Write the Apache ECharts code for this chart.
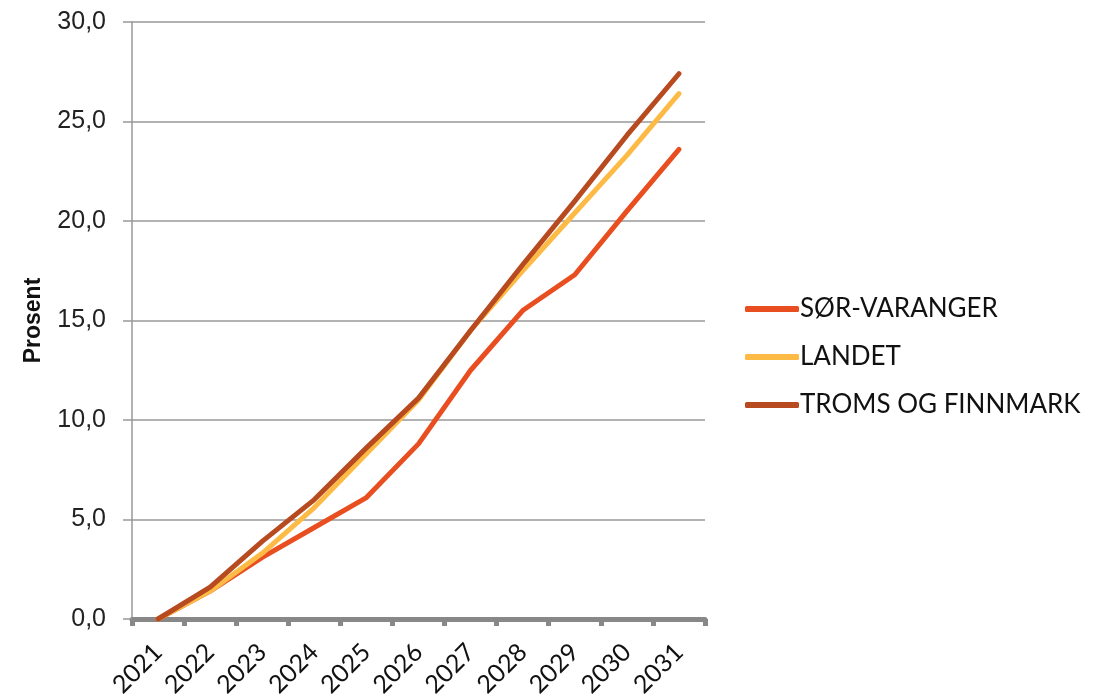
<!DOCTYPE html>
<html><head><meta charset="utf-8">
<script src="https://cdn.jsdelivr.net/npm/echarts@6/dist/echarts.min.js"></script>
<style>html,body{margin:0;padding:0;background:#fff}#c{width:1114px;height:699px}</style>
</head><body><div id="c"></div>
<script>
const years = ['2021','2022','2023','2024','2025','2026','2027','2028','2029','2030','2031'];
const sorVaranger = [0, 1.4, 3.1, 4.6, 6.1, 8.8, 12.5, 15.5, 17.3, 20.5, 23.6];
const landet = [0, 1.4, 3.3, 5.6, 8.3, 11.0, 14.5, 17.5, 20.4, 23.3, 26.4];
const tromsFinnmark = [0, 1.6, 3.9, 6.0, 8.6, 11.1, 14.5, 17.8, 21.0, 24.3, 27.4];
const yTicks = [0, 5, 10, 15, 20, 25, 30];

const font = 'Lato, "Noto Sans", sans-serif';
const chart = echarts.init(document.getElementById('c'), null, {renderer:'canvas'});
const mk = (name, data, color) => ({
  name, type:'line', data, symbol:'none', smooth:false,
  lineStyle:{color, width:5, cap:'round', join:'round'},
  itemStyle:{color}
});
chart.setOption({
  animation:false,
  backgroundColor:'#fff',
  grid:{left:132, right:409, top:22, bottom:80, containLabel:false, outerBoundsMode:'none'},
  legend:{
    orient:'vertical', left:740, top:290, itemWidth:54, itemHeight:6, itemGap:20,
    icon:'roundRect',
    textStyle:{fontFamily:font, fontSize:26, lineHeight:28, color:'#111', padding:[0,0,0,-4]},
    data:['SØR-VARANGER','LANDET','TROMS OG FINNMARK']
  },
  xAxis:{
    type:'category', data:years, boundaryGap:true,
    axisLine:{lineStyle:{color:'#888', width:5}},
    axisTick:{show:true, length:7, lineStyle:{color:'#888', width:5}},
    axisLabel:{rotate:45, fontFamily:font, fontSize:25, color:'#111', margin:29, interval:0}
  },
  yAxis:{
    type:'value', min:yTicks[0], max:yTicks[yTicks.length-1], interval:5,
    name:'Prosent', nameLocation:'middle', nameGap:87, nameRotate:90,
    nameTextStyle:{fontFamily:'"Liberation Sans", Arial, sans-serif', fontWeight:'bold', fontSize:23, color:'#111'},
    axisLine:{show:true, lineStyle:{color:'#999', width:1.5}},
    axisTick:{show:true, length:9, lineStyle:{color:'#999', width:1.5}},
    splitLine:{lineStyle:{color:'#999', width:1.5}},
    axisLabel:{fontFamily:'"Liberation Sans", Arial, sans-serif', fontSize:25, color:'#222', margin:26,
      formatter:v=>v.toFixed(1).replace('.',',')}
  },
  series:[
    mk('SØR-VARANGER', sorVaranger, '#E84E1F'),
    mk('LANDET', landet, '#FDBA45'),
    mk('TROMS OG FINNMARK', tromsFinnmark, '#B84A20')
  ]
});
</script></body></html>
